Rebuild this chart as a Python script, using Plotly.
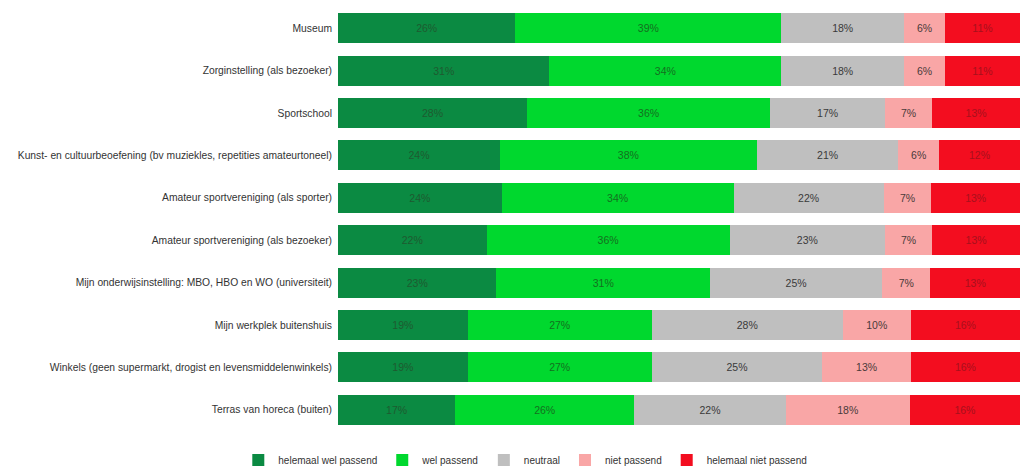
import plotly.graph_objects as go

categories = [
    "Museum",
    "Zorginstelling (als bezoeker)",
    "Sportschool",
    "Kunst- en cultuurbeoefening (bv muziekles, repetities amateurtoneel)",
    "Amateur sportvereniging (als sporter)",
    "Amateur sportvereniging (als bezoeker)",
    "Mijn onderwijsinstelling: MBO, HBO en WO (universiteit)",
    "Mijn werkplek buitenshuis",
    "Winkels (geen supermarkt, drogist en levensmiddelenwinkels)",
    "Terras van horeca (buiten)",
]

series_names = ["helemaal wel passend", "wel passend", "neutraal", "niet passend", "helemaal niet passend"]

helemaal_wel = [26, 31, 28, 24, 24, 22, 23, 19, 19, 17]
wel = [39, 34, 36, 38, 34, 36, 31, 27, 27, 26]
neutraal = [18, 18, 17, 21, 22, 23, 25, 28, 25, 22]
niet = [6, 6, 7, 6, 7, 7, 7, 10, 13, 18]
helemaal_niet = [11, 11, 13, 12, 13, 13, 13, 16, 16, 16]

series_values = [helemaal_wel, wel, neutraal, niet, helemaal_niet]
colors = ["#0b8a42", "#00d82e", "#bfbfbf", "#f9a6a6", "#f30d1f"]
text_colors = ["#1e5a30", "#14701f", "#3a3a3a", "#4a3a3a", "#a8101c"]

FONT = "Liberation Sans, Arial, sans-serif"

fig = go.Figure()
for name, vals, col, tcol in zip(series_names, series_values, colors, text_colors):
    fig.add_trace(go.Bar(
        name=name,
        y=categories,
        x=vals,
        orientation="h",
        marker=dict(color=col, line=dict(width=0)),
        text=[f"{v}%" for v in vals],
        textposition="inside",
        insidetextanchor="middle",
        textangle=0,
        textfont=dict(family=FONT, size=10.5, color=tcol),
        hoverinfo="skip",
    ))

fig.update_layout(
    barmode="stack",
    barnorm="percent",
    bargap=0.29,
    width=1020,
    height=468,
    margin=dict(l=338, r=0, t=7, b=37, autoexpand=False),
    paper_bgcolor="white",
    plot_bgcolor="white",
    font=dict(family=FONT, size=10.5, color="#333333"),
    xaxis=dict(visible=False, range=[0, 100], fixedrange=True),
    yaxis=dict(autorange="reversed", showgrid=False, showline=False, ticks="",
               automargin=False, ticklabelstandoff=5, fixedrange=True,
               tickfont=dict(family=FONT, size=10.3, color="#333333")),
    legend=dict(
        orientation="h",
        xref="container", yref="paper",
        x=0.515, xanchor="center",
        y=-0.034, yanchor="top",
        font=dict(family=FONT, size=10, color="#333333"),
        itemwidth=30,
        traceorder="normal",
    ),
    showlegend=True,
)

fig.write_html("out.html", config={"displayModeBar": False},
               post_script="document.body.style.margin='0';")
